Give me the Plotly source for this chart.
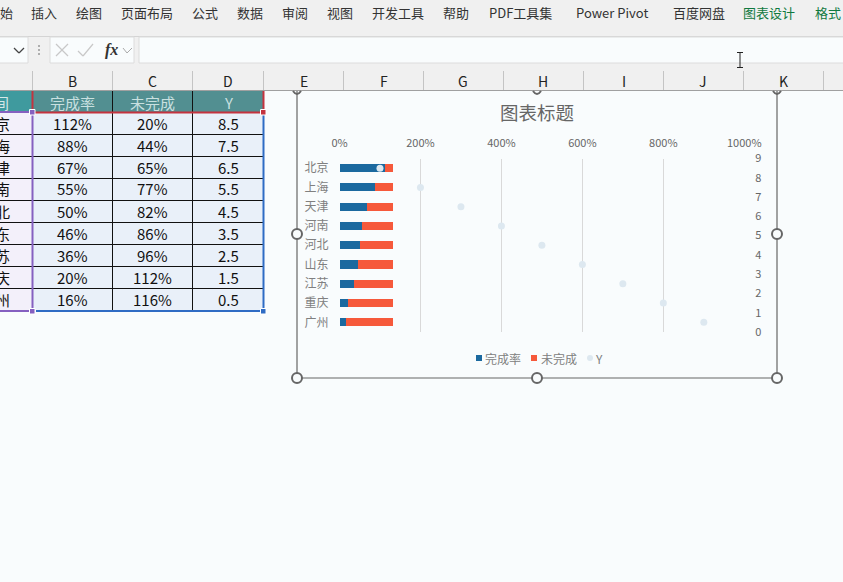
import plotly.graph_objects as go

W, H = 843, 582
FONT = "Noto Sans CJK SC"

# chart data
cities = ["北京", "上海", "天津", "河南", "河北", "山东", "江苏", "重庆", "广州"]
done = [112, 88, 67, 55, 50, 46, 36, 20, 16]
undone = [20, 44, 65, 77, 82, 86, 96, 112, 116]
y_vals = [8.5, 7.5, 6.5, 5.5, 4.5, 3.5, 2.5, 1.5, 0.5]
x_vals = [100, 200, 300, 400, 500, 600, 700, 800, 900]
x_ticks = [0, 200, 400, 600, 800, 1000]
y_ticks = [0, 1, 2, 3, 4, 5, 6, 7, 8, 9]

# sheet text around the chart
menu = [("始", 7), ("插入", 44), ("绘图", 89), ("页面布局", 147), ("公式", 205), ("数据", 250),
        ("审阅", 295), ("视图", 340), ("开发工具", 398), ("帮助", 456), ("PDF工具集", 520),
        ("Power Pivot", 612), ("百度网盘", 699)]
menu_green = [("图表设计", 769), ("格式", 828)]
col_letters = [("B", 72), ("C", 152), ("D", 228), ("E", 304), ("F", 384), ("G", 463),
               ("H", 543), ("I", 624), ("J", 703), ("K", 783)]
col_lines = [32, 112, 192, 263, 343, 423, 503, 583, 663, 743, 823]
clipped_names = ["京", "海", "津", "南", "北", "东", "苏", "庆", "州"]
headers = [("完成率", 72), ("未完成", 152), ("Y", 228)]

BG = "#f9fcfd"
BLUE = "#1b699f"
ORANGE = "#f6593b"
DOT = "#dde8f0"


def px(x):
    return x / W


def py(y):
    return 1 - y / H


shapes = []
notes = []


def rect(x0, y0, x1, y1, fill=None, line=None, width=1, layer="below"):
    shapes.append(dict(type="rect", xref="paper", yref="paper", x0=px(x0), x1=px(x1), y0=py(y0), y1=py(y1),
                       fillcolor=fill or "rgba(0,0,0,0)", line=dict(color=line or "rgba(0,0,0,0)", width=width if line else 0),
                       layer=layer))


def seg(x0, y0, x1, y1, color, width=1, layer="below"):
    shapes.append(dict(type="line", xref="paper", yref="paper", x0=px(x0), x1=px(x1), y0=py(y0), y1=py(y1),
                       line=dict(color=color, width=width), layer=layer))


def circle(cx, cy, r=5):
    shapes.append(dict(type="circle", xref="paper", yref="paper", x0=px(cx - r), x1=px(cx + r), y0=py(cy + r), y1=py(cy - r),
                       fillcolor=BG, line=dict(color="#666666", width=2), layer="above"))


def text(s, x, y, size=13, color="#333333", anchor="center", family=FONT):
    notes.append(dict(text=s, xref="paper", yref="paper", x=px(x), y=py(y), xanchor=anchor, yanchor="middle",
                      showarrow=False, font=dict(size=size, color=color, family=family)))


# ribbon and formula bar
rect(0, 0, W, 36, "#f0f0f0")
rect(0, 36, W, 71, "#f0f0f0")
seg(0, 36.5, W, 36.5, "#d4d4d4")
rect(-6, 37, 28, 63, BG, "#dcdcdc")
rect(50, 37, 134, 63, BG, "#dcdcdc")
rect(139, 37, W + 6, 63, BG, "#dcdcdc")
for s, x in menu:
    text(s, x, 12, 13, "#333333")
for s, x in menu_green:
    text(s, x, 12, 13, "#10793f")
seg(14, 48, 19, 53, "#444444", 1.3)
seg(19, 53, 24, 48, "#444444", 1.3)
for dot_y in (46, 50, 54):
    seg(38, dot_y, 40, dot_y, "#999999", 1.5)
seg(56, 44, 68, 56, "#c8c8c8", 1.2)
seg(68, 44, 56, 56, "#c8c8c8", 1.2)
seg(78, 51, 83, 56, "#c8c8c8", 1.2)
seg(83, 56, 93, 44, "#c8c8c8", 1.2)
seg(123, 48, 127, 53, "#aaaaaa", 1)
seg(127, 53, 132, 48, "#aaaaaa", 1)
text("<i><b>fx</b></i>", 111, 50, 16, "#333333", family="Liberation Serif")

# cursor
seg(740, 53, 740, 67, "#222222", 1)
seg(737, 52.5, 743, 52.5, "#222222", 1)
seg(737, 67.5, 743, 67.5, "#222222", 1)

# column header strip
rect(0, 71, W, 90, "#f0f0f0")
seg(0, 90.5, W, 90.5, "#a0a0a0")
for x in col_lines:
    seg(x + 0.5, 71, x + 0.5, 90, "#c4c4c4")
for s, x in col_letters:
    text(s, x, 81, 14, "#222222")

# table
rect(0, 91, 32, 112, "#3f9a9e")
rect(33, 91, 263, 112, "#528f91")
rect(0, 112, 32, 310, "#f3f0fa")
rect(33, 112, 263, 310, "#e9f0f9")
for i in range(9):
    row_y = 123 + i * 22
    text(clipped_names[i], 2, row_y, 15, "#111111")
    text(str(done[i]) + "%", 72.5, row_y, 15, "#111111")
    text(str(undone[i]) + "%", 152.5, row_y, 15, "#111111")
    text(str(y_vals[i]), 228, row_y, 15, "#111111")
    if i > 0:
        seg(0, 123.5 + i * 22 - 11, 263, 123.5 + i * 22 - 11, "#111111")
seg(112.5, 91, 112.5, 310, "#111111")
seg(192.5, 91, 192.5, 310, "#111111")
text("间", 1, 102, 15, "#d5e8e8")
for s, x in headers:
    text(s, x, 102, 15, "#c9e0e0")

# selection outlines
seg(0, 112, 32.5, 112, "#8560c0", 2)
seg(32.5, 112, 32.5, 311, "#8560c0", 2)
seg(0, 311, 32.5, 311, "#8560c0", 2)
seg(33, 112.5, 263, 112.5, "#c4333f", 2)
seg(32.5, 91, 32.5, 112, "#c4333f", 2)
seg(263.5, 91, 263.5, 112, "#c4333f", 2)
seg(36, 311, 263, 311, "#2f6cc4", 2)
seg(263.5, 113, 263.5, 311, "#2f6cc4", 2)
rect(29.5, 109.5, 35, 115, "#8560c0", "#ffffff", 1, "above")
rect(260.5, 109.5, 266, 115, "#c4333f", "#ffffff", 1, "above")
rect(29.5, 308.5, 35, 314, "#8560c0", "#ffffff", 1, "above")
rect(260.5, 308.5, 266, 314, "#2f6cc4", "#ffffff", 1, "above")

# chart frame
seg(297, 91, 297, 378, "#666666", 1.2)
seg(777, 91, 777, 378, "#666666", 1.2)
seg(297, 378, 777, 378, "#666666", 1.2)
for cx, cy in [(297, 234), (777, 234), (297, 378), (537, 378), (777, 378)]:
    circle(cx, cy)
# top handles are cut off by the column strip, only the lower rim shows
for cx in (297, 537, 777):
    shapes.append(dict(type="path", xref="paper", yref="paper", layer="above",
                       path="M %f,%f Q %f,%f %f,%f" % (px(cx - 4), py(91), px(cx), py(97), px(cx + 4), py(91)),
                       line=dict(color="#666666", width=2)))

# legend of the chart
rect(476, 355, 482, 361, BLUE)
text("完成率", 483, 358, 12, "#808080", "left")
rect(531, 355, 537, 361, ORANGE)
text("未完成", 539, 358, 12, "#808080", "left")
shapes.append(dict(type="circle", xref="paper", yref="paper", x0=px(587), x1=px(593), y0=py(361), y1=py(355),
                   fillcolor=DOT, line=dict(width=0), layer="below"))
text("Y", 593, 358, 12, "#808080", "left")

text("图表标题", 537, 112, 18.5, "#666666")

fig = go.Figure()
fig.add_trace(go.Bar(y=cities, x=done, name="完成率", orientation="h", marker=dict(color=BLUE, line_width=0)))
fig.add_trace(go.Bar(y=cities, x=undone, name="未完成", orientation="h", marker=dict(color=ORANGE, line_width=0)))
fig.add_trace(go.Scatter(x=x_vals, y=y_vals, name="Y", mode="markers", yaxis="y2",
                         marker=dict(color=DOT, size=7)))

fig.update_layout(
    width=W, height=H, margin=dict(l=0, r=0, t=0, b=0, autoexpand=False),
    paper_bgcolor=BG, plot_bgcolor="rgba(0,0,0,0)",
    barmode="stack", bargap=0.58, showlegend=False,
    font=dict(family=FONT, color="#666666", size=11),
    shapes=shapes, annotations=notes,
    xaxis=dict(domain=[px(339.5), px(744.3)], range=[0, 1000], side="top", anchor="y",
               tickvals=x_ticks, ticktext=[str(v) + "%" for v in x_ticks],
               showgrid=True, gridcolor="#d9d9d9", gridwidth=1, zeroline=False, showline=False, ticks="",
               ticklabelstandoff=8, tickfont=dict(size=11, color="#666666")),
    yaxis=dict(domain=[py(332), py(158.5)], autorange="reversed", categoryorder="array", categoryarray=cities,
               showgrid=False, zeroline=False, showline=False, ticks="", anchor="x",
               ticklabelstandoff=10, tickfont=dict(size=12, color="#808080")),
    yaxis2=dict(domain=[py(332), py(158.5)], range=[0, 9], overlaying="y", side="right", anchor="x",
                tickvals=y_ticks, showgrid=False, zeroline=False, showline=False, ticks="",
                ticklabelstandoff=10, tickfont=dict(size=11, color="#666666")),
)

# the page margin would push the figure off the window
fig.write_html("out.html", config=dict(displayModeBar=False),
               post_script="document.body.style.margin='0';document.body.style.overflow='hidden';")
